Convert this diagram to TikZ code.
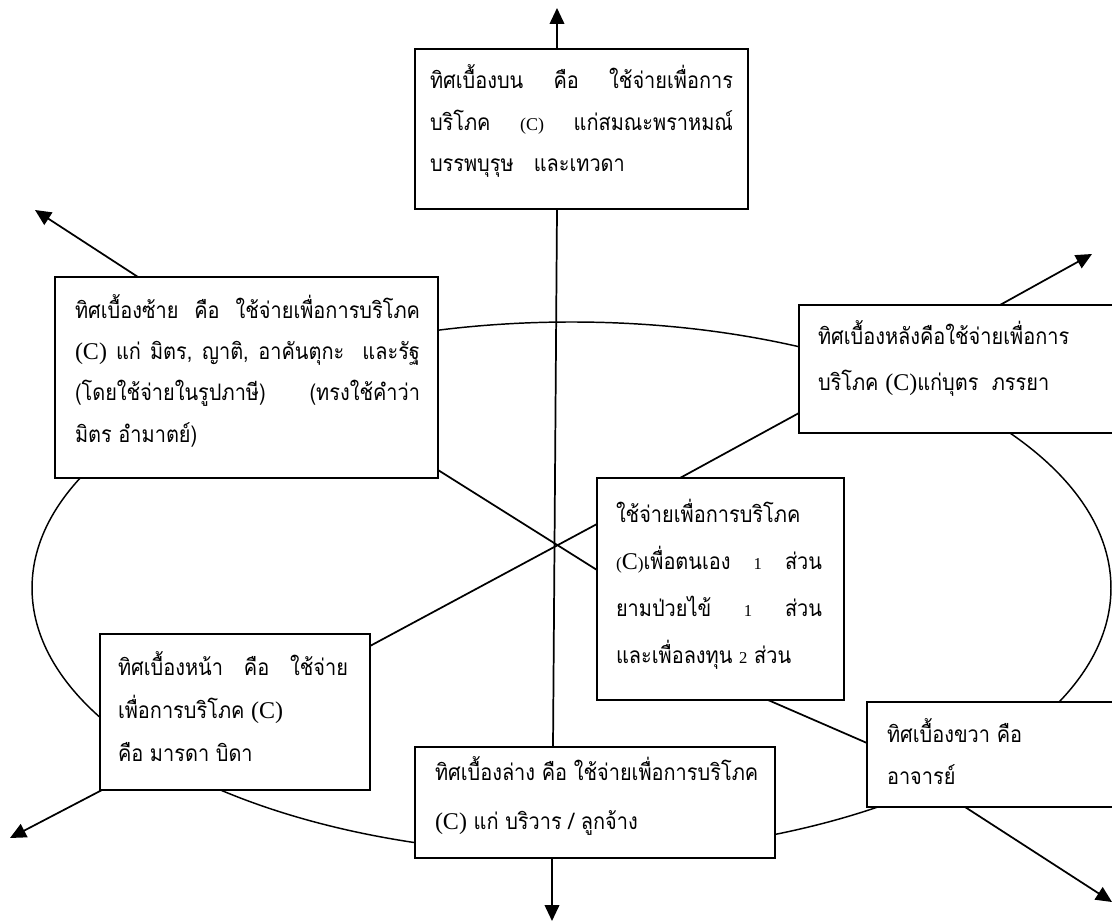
\documentclass[tikz,border=0pt]{standalone}
\usepackage{fontspec}
\setmainfont{Liberation Serif}
\newfontfamily\thai[Script=Thai, FakeStretch=0.88]{Loma}
\usetikzlibrary{arrows.meta}
% one drawing unit = one pixel of the final picture
\newdimen\pxu \pxu=0.75pt
\newcommand{\Cbig}{{\rmfamily\fontsize{18pt}{18pt}\selectfont (C)}}
\newcommand{\Csmall}{{\rmfamily\fontsize{13.5pt}{13.5pt}\selectfont (C)}}
\newcommand{\Cmix}{{\rmfamily\fontsize{13pt}{13pt}\selectfont(\fontsize{18pt}{18pt}\selectfont C\fontsize{13pt}{13pt}\selectfont)}}
\newcommand{\nm}[1]{{\rmfamily\fontsize{12.5pt}{12.5pt}\selectfont #1}}
% a justified line and a left-aligned line, each exactly one text width wide
\newcommand{\jl}[1]{\leavevmode\hbox to\linewidth{#1}\par}
\newcommand{\rl}[1]{\leavevmode\hbox to\linewidth{#1\hfil}\par}
\begin{document}
\begin{tikzpicture}[x=0.75pt, y=-0.75pt,
  box/.style={draw, line width=1.5pt, fill=white, inner sep=0pt, outer sep=0pt, anchor=north west},
  txt/.style={anchor=base west, inner sep=0pt, outer sep=0pt, align=left,
    font=\thai\fontsize{17pt}{#1}\selectfont,
    execute at begin node={\setlength{\parindent}{0pt}\spaceskip=5pt plus 300pt\relax}},
  arr/.style={line width=1.3pt, -{Triangle[length=12pt,width=11pt]}},
  link/.style={line width=1.3pt},
  ell/.style={line width=1.1pt}]
\useasboundingbox (0,0) rectangle (1112,923);
\fill[white] (0,0) rectangle (1112,923);
\clip (0,0) rectangle (1112,923);

% the great circle of spending, behind all boxes
\draw[ell] (571.5,588) ellipse [x radius=404.6pt, y radius=199.5pt];

% direction boxes
\node[box, minimum width=333\pxu, minimum height=160\pxu] (up) at (415,49) {};
\node[box, minimum width=383\pxu, minimum height=201\pxu] (lft) at (55,277) {};
\node[box, minimum width=330\pxu, minimum height=128\pxu] (back) at (799,305) {};
\node[box, minimum width=247\pxu, minimum height=222\pxu] (mid) at (597,478) {};
\node[box, minimum width=270\pxu, minimum height=156\pxu] (front) at (100,634) {};
\node[box, minimum width=360\pxu, minimum height=111\pxu] (down) at (415,747) {};
\node[box, minimum width=260\pxu, minimum height=105\pxu] (rgt) at (867,702) {};

% box texts
\node[txt=31.1pt, text width=303\pxu] (upT) at ([shift={(15,40)}]up.north west)
  {\jl{ทิศเบื้องบน คือ ใช้จ่ายเพื่อการ}
   \jl{บริโภค \Csmall{} แก่สมณะพราหมณ์}
   \rl{บรรพบุรุษ\ \ \ และเทวดา}};
\node[txt=31.1pt, text width=345\pxu] (lftT) at ([shift={(20,41)}]lft.north west)
  {\jl{ทิศเบื้องซ้าย คือ ใช้จ่ายเพื่อการบริโภค}
   \jl{\Cbig{} แก่ มิตร, ญาติ, อาคันตุกะ\ \ และรัฐ}
   \jl{(โดยใช้จ่ายในรูปภาษี) (ทรงใช้คำว่า}
   \rl{มิตร อำมาตย์)}};
\node[txt=34.5pt, text width=280\pxu] (backT) at ([shift={(19,39)}]back.north west)
  {\rl{ทิศเบื้องหลังคือใช้จ่ายเพื่อการ}
   \rl{บริโภค \Cbig แก่บุตร\ \ ภรรยา}};
\node[txt=35.25pt, text width=206\pxu] (midT) at ([shift={(19,44)}]mid.north west)
  {\rl{ใช้จ่ายเพื่อการบริโภค}
   \jl{\Cmix เพื่อตนเอง \nm{1} ส่วน}
   \jl{ยามป่วยไข้ \nm{1} ส่วน}
   \rl{และเพื่อลงทุน \nm{2} ส่วน}};
\node[txt=32.25pt, text width=230\pxu] (frontT) at ([shift={(18,41)}]front.north west)
  {\jl{ทิศเบื้องหน้า คือ ใช้จ่าย}
   \rl{เพื่อการบริโภค \Cbig}
   \rl{คือ มารดา บิดา}};
\node[txt=36.75pt, text width=330\pxu] (downT) at ([shift={(20,33)}]down.north west)
  {\rl{ทิศเบื้องล่าง คือ ใช้จ่ายเพื่อการบริโภค}
   \rl{\Cbig{} แก่ บริวาร / ลูกจ้าง}};
\node[txt=31.5pt, text width=220\pxu] (rgtT) at ([shift={(20,40)}]rgt.north west)
  {\rl{ทิศเบื้องขวา คือ}
   \rl{อาจารย์}};

% free ends of the outward arrows
\coordinate (upTip) at (557,8);
\coordinate (downTip) at (552,921);
\coordinate (lftTip) at (35,210);
\coordinate (backTip) at (1092,254);
\coordinate (frontTip) at (10,838);
\coordinate (rgtTip) at (1112,902);

% outward arrows
\draw[arr] ([xshift=106.5pt]up.north west) -- (upTip);
\draw[arr] ([xshift=102.75pt]down.south west) -- (downTip);
\draw[arr] ([xshift=62.25pt]lft.north west) -- (lftTip);
\draw[arr] ([xshift=150.75pt]back.north west) -- (backTip);
\draw[arr] ([xshift=1.5pt]front.south west) -- (frontTip);
\draw[arr] ([xshift=73.5pt]rgt.south west) -- (rgtTip);

% inner links
\draw[link] ([xshift=106.5pt]up.south west) -- ([xshift=103.5pt]down.north west);
\draw[link] ([yshift=6pt]lft.south east) -- ([yshift=-69pt]mid.north west);
\draw[link] ([yshift=-9pt]front.north east) -- ([yshift=-34.5pt]mid.north west);
\draw[link] ([xshift=62.25pt]mid.north west) -- ([yshift=-81pt]back.north west);
\draw[link] ([xshift=128.25pt]mid.south west) -- ([yshift=-30.75pt]rgt.north west);
\end{tikzpicture}
\end{document}
